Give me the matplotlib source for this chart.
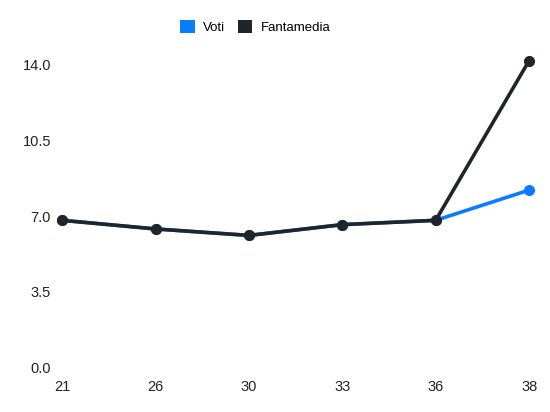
import matplotlib.pyplot as plt
from matplotlib.patches import Patch

plt.rcParams['font.family'] = ['Liberation Sans', 'DejaVu Sans']

giornate = ['21', '26', '30', '33', '36', '38']
voti = [6.8, 6.4, 6.1, 6.6, 6.8, 8.2]
fantamedia = [6.8, 6.4, 6.1, 6.6, 6.8, 14.2]
y_ticks = [0.0, 3.5, 7.0, 10.5, 14.0]

blue = '#0a7cff'
dark = '#212529'

fig = plt.figure(figsize=(5.5, 4.12), dpi=100)
ax = fig.add_axes([0.113, 0.1092, 0.849, 0.7854])

x = list(range(len(giornate)))
ax.plot(x, voti, color=blue, lw=2.6, marker='o', ms=7, zorder=2, clip_on=False)
ax.plot(x, fantamedia, color=dark, lw=2.6, marker='o', ms=7, zorder=3, clip_on=False)

ax.set_xlim(x[0], x[-1])
ax.set_ylim(0, 15)
ax.set_xticks(x)
ax.set_xticklabels(giornate)
ax.set_yticks(y_ticks)
ax.set_yticklabels([f'{v:.1f}' for v in y_ticks])
ax.tick_params(length=0, labelsize=10.5, colors='#222222')
ax.tick_params(axis='x', pad=9)
ax.tick_params(axis='y', pad=8)
for s in ax.spines.values():
    s.set_visible(False)

handles = [Patch(facecolor=blue, label='Voti'), Patch(facecolor=dark, label='Fantamedia')]
fig.legend(handles=handles, loc='center', bbox_to_anchor=(0.464, 0.934), ncol=2,
           frameon=False, fontsize=9.5, handlelength=1.1, handleheight=1.1,
           handletextpad=0.6, columnspacing=1.0)

fig.savefig('out.png', dpi=100)
